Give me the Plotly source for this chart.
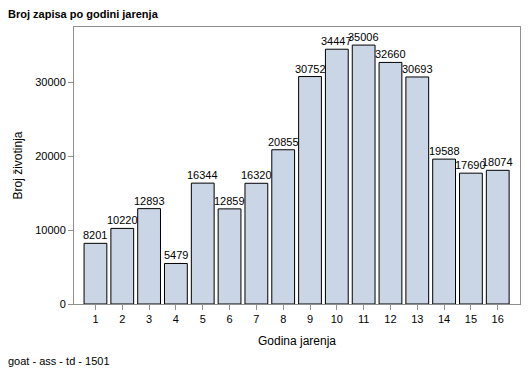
import plotly.graph_objects as go

years = list(range(1, 17))
counts = [8201, 10220, 12893, 5479, 16344, 12859, 16320, 20855,
          30752, 34447, 35006, 32660, 30693, 19588, 17690, 18074]
y_ticks = [0, 10000, 20000, 30000]

font = "Liberation Sans, Arial, sans-serif"

fig = go.Figure(go.Bar(
    x=years, y=counts, width=0.85,
    marker=dict(color="#CAD5E5", line=dict(color="black", width=1)),
))

for yr, c in zip(years, counts):
    fig.add_annotation(x=yr, y=c, text=str(c), showarrow=False,
                       yanchor="bottom", xanchor="center", yshift=0,
                       font=dict(family=font, size=11, color="black"))

# page body has an 8px margin; figure sized to fit the 529x377 window
W, H = 513, 361
L, T = 66, 19
PW, PH = 446, 277
fig.update_layout(
    width=W, height=H,
    margin=dict(l=L, r=W - L - PW, t=T, b=H - T - PH, pad=0),
    plot_bgcolor="white", paper_bgcolor="white",
    font=dict(family=font, size=11, color="black"),
    showlegend=False,
)
fig.update_xaxes(
    range=[0.2, 16.83], tickvals=years, ticks="outside", ticklen=5,
    tickcolor="#909090", showline=True, linecolor="#909090", mirror=True,
    showgrid=False, zeroline=False, automargin=False,
    title=dict(text="Godina jarenja", font=dict(size=12), standoff=12),
    tickfont=dict(size=11),
)
fig.update_yaxes(
    range=[0, 37450], tickvals=y_ticks, tickformat="d", ticks="outside", ticklen=5,
    tickcolor="#909090", showline=True, linecolor="#909090", mirror=True,
    showgrid=False, zeroline=False, automargin=False,
    title=dict(text="Broj životinja", font=dict(size=12), standoff=10),
    tickfont=dict(size=11),
)
fig.add_annotation(text="<b>Broj zapisa po godini jarenja</b>", xref="paper", yref="paper",
                   x=-L / PW, y=1 + (T - 6) / PH, xanchor="left", yanchor="middle",
                   xshift=-2, showarrow=False, font=dict(size=11))
fig.add_annotation(text="goat - ass - td - 1501", xref="paper", yref="paper",
                   x=-L / PW, y=-(353 - (T + PH)) / PH, xanchor="left", yanchor="middle",
                   xshift=-2, showarrow=False, font=dict(size=11))

fig.write_html("out.html")
